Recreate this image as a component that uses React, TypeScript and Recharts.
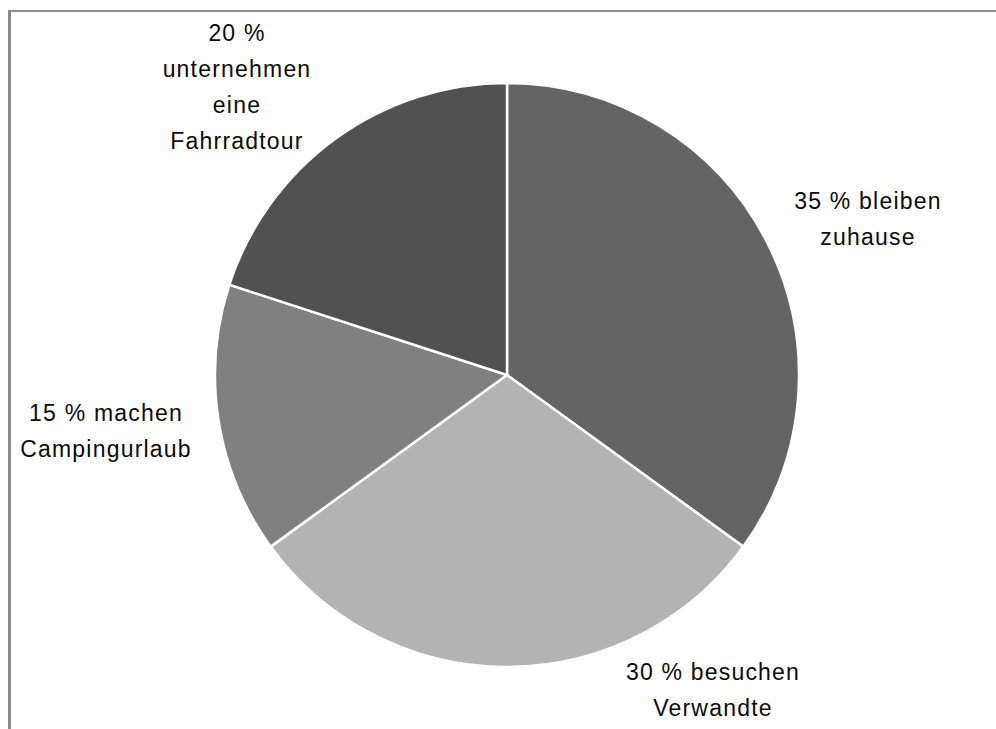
import React from "react";
import { PieChart, Pie, Cell } from "recharts";

const categories = ["bleiben zuhause", "besuchen Verwandte", "machen Campingurlaub", "unternehmen eine Fahrradtour"];
const values = [35, 30, 15, 20];
const labelLines = [
  ["35 % bleiben", "zuhause"],
  ["30 % besuchen", "Verwandte"],
  ["15 % machen", "Campingurlaub"],
  ["20 %", "unternehmen", "eine", "Fahrradtour"],
];
const colors = ["#646464", "#b3b3b3", "#808080", "#515151"];

// label anchor offsets (baseline of first line) from pie centre (layout only)
const labelOffsets = [
  [361, -166],
  [206, 305],
  [-401, 46],
  [-270, -334],
];
const LINE_H = 36;

const data = categories.map((name, i) => ({ name, value: values[i] }));

const renderLabel = (props: any) => {
  const { cx, cy, index } = props;
  const [dx, dy] = labelOffsets[index];
  const lines = labelLines[index];
  return (
    <text
      x={cx + dx}
      y={cy + dy}
      textAnchor="middle"
      fill="#0a0a0a"
      style={{ fontFamily: "Liberation Sans, Arial, sans-serif", fontSize: 23, letterSpacing: 1.2 }}
    >
      {lines.map((l, k) => (
        <tspan key={k} x={cx + dx} dy={k === 0 ? 0 : LINE_H}>
          {l}
        </tspan>
      ))}
    </text>
  );
};

export default function App() {
  return (
    <div style={{ position: "absolute", left: 0, top: 0, width: 996, height: 729, background: "#fff" }}>
      <div
        style={{
          position: "absolute",
          left: 8,
          top: 10,
          width: 988,
          height: 719,
          borderTop: "2px solid #8f8f8f",
          borderLeft: "3px solid #888",
          boxSizing: "border-box",
        }}
      />
      <div style={{ position: "absolute", left: 0, top: 0 }}>
        <PieChart width={996} height={729} margin={{ top: 0, right: 0, bottom: 0, left: 0 }}>
          <Pie
            data={data}
            dataKey="value"
            nameKey="name"
            cx={507}
            cy={375}
            outerRadius={292}
            startAngle={90}
            endAngle={-270}
            stroke="#ffffff"
            strokeWidth={2.5}
            label={renderLabel}
            labelLine={false}
            isAnimationActive={false}
          >
            {data.map((d, i) => (
              <Cell key={d.name} fill={colors[i]} />
            ))}
          </Pie>
        </PieChart>
      </div>
    </div>
  );
}
